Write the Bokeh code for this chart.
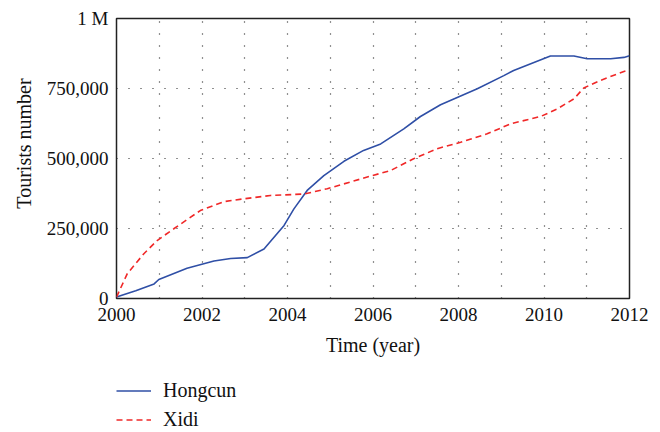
from bokeh.plotting import figure
from bokeh.models import FixedTicker, Legend, LegendItem
from bokeh.layouts import column
from bokeh.embed import file_html
from bokeh.resources import INLINE

# Data
hong_years = [2000.0, 2000.45, 2000.88, 2000.99, 2001.65, 2002.28, 2002.67, 2003.06,
              2003.45, 2003.92, 2004.15, 2004.46, 2004.85, 2005.32, 2005.78, 2006.18,
              2006.72, 2007.11, 2007.58, 2008.44, 2009.06, 2009.29, 2010.15, 2010.70,
              2011.01, 2011.56, 2011.87, 2012.0]
hong_values = [5000, 28000, 52000, 68000, 108000, 134000, 143000, 146000,
               177000, 261000, 320000, 386000, 439000, 490000, 529000, 552000,
               606000, 650000, 692000, 749000, 796000, 814000, 866000, 866000,
               856000, 856000, 861000, 867000]

xidi_years = [2000.0, 2000.25, 2000.64, 2000.95, 2001.34, 2001.96, 2002.51, 2002.98,
              2003.60, 2004.38, 2004.93, 2005.94, 2006.41, 2006.95, 2007.50, 2008.05,
              2008.67, 2009.22, 2009.92, 2010.31, 2010.70, 2010.93, 2011.32, 2011.87,
              2012.0]
xidi_values = [5000, 88000, 160000, 207000, 249000, 314000, 346000, 356000,
               368000, 373000, 392000, 437000, 457000, 499000, 535000, 558000,
               588000, 624000, 650000, 677000, 713000, 752000, 779000, 811000,
               817000]

x_ticks = [2000, 2002, 2004, 2006, 2008, 2010, 2012]
x_grid = list(range(2000, 2013))
y_ticks = [0, 250000, 500000, 750000, 1000000]
y_labels = {0: "0", 250000: "250,000", 500000: "500,000", 750000: "750,000", 1000000: "1 M"}
series_names = ["Hongcun", "Xidi"]

FONT = "Liberation Serif"
FS_TICK = "19px"
FS_LABEL = "20px"
BLUE = "#2f4fa6"
RED = "#f02828"

p = figure(width=660, height=372, x_range=(2000, 2012), y_range=(0, 1000000),
           output_backend="svg", toolbar_location=None,
           min_border_left=116, min_border_right=31, min_border_top=18,
           min_border_bottom=74)
p.background_fill_color = "white"
p.border_fill_color = "white"
p.outline_line_color = "#222222"
p.outline_line_width = 1.5
p.outline_line_alpha = 1.0

p.line(hong_years, hong_values, line_color=BLUE, line_width=1.6)
p.line(xidi_years, xidi_values, line_color=RED, line_width=1.6, line_dash="6 4")

p.xaxis.ticker = FixedTicker(ticks=x_ticks)
p.yaxis.ticker = FixedTicker(ticks=y_ticks)
p.yaxis.major_label_overrides = y_labels
p.xgrid.ticker = FixedTicker(ticks=x_grid)
p.ygrid.ticker = FixedTicker(ticks=y_ticks)
for g in (p.xgrid, p.ygrid):
    g.grid_line_color = "#222222"
    g.grid_line_dash = "1 11"
    g.grid_line_width = 1.2

for ax in (p.xaxis, p.yaxis):
    ax.axis_line_color = None
    ax.major_tick_line_color = None
    ax.minor_tick_line_color = None
    ax.major_tick_out = 0
    ax.major_tick_in = 0
    ax.major_label_text_font = FONT
    ax.major_label_text_font_size = FS_TICK
    ax.major_label_text_color = "#111111"
    ax.axis_label_text_font = FONT
    ax.axis_label_text_font_size = FS_LABEL
    ax.axis_label_text_font_style = "normal"
    ax.axis_label_text_color = "#111111"

p.xaxis.axis_label = "Time (year)"
# leading no-break spaces nudge the rotated label upward, as in the reference
p.yaxis.axis_label = "\u00a0" * 6 + "Tourists number"
p.xaxis.major_label_standoff = 9
p.yaxis.major_label_standoff = 8
p.xaxis.axis_label_standoff = 10
p.yaxis.axis_label_standoff = 9

# Legend lives in a small companion figure below the chart
lg = figure(width=660, height=60, x_range=(0, 1), y_range=(0, 1),
            output_backend="svg", toolbar_location=None,
            x_axis_location=None, y_axis_location=None, min_border=0)
lg.outline_line_color = None
lg.xgrid.visible = False
lg.ygrid.visible = False
# series drawn outside the legend figure's visible range; used only for legend glyphs
l1 = lg.line(hong_years, hong_values, line_color=BLUE, line_width=1.6)
l2 = lg.line(xidi_years, xidi_values, line_color=RED, line_width=1.6, line_dash="6 4")
legend = Legend(items=[LegendItem(label=series_names[0], renderers=[l1]),
                       LegendItem(label=series_names[1], renderers=[l2])],
                location=(0, 1), orientation="vertical",
                margin=0, padding=0, spacing=6, glyph_width=35, glyph_height=21,
                label_height=21, label_standoff=12,
                label_text_font=FONT, label_text_font_size=FS_LABEL,
                label_text_color="#111111",
                border_line_color=None, background_fill_alpha=0)
lg.add_layout(legend, "center")

layout = column(p, lg, spacing=0)
open("out.html", "w").write(file_html(layout, INLINE))
